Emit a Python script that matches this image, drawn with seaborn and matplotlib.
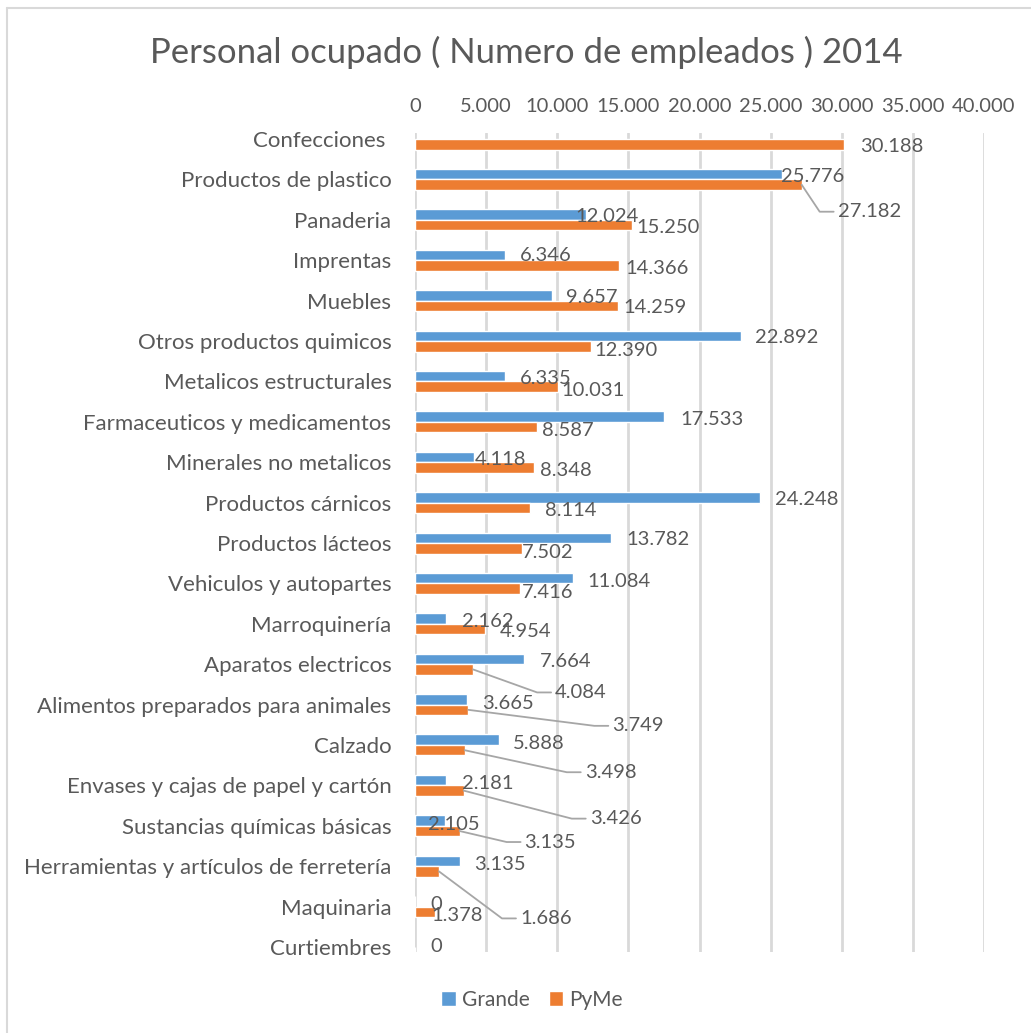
import matplotlib
matplotlib.use("Agg")
import matplotlib.pyplot as plt
from matplotlib.lines import Line2D
from matplotlib.patches import Patch
from matplotlib.transforms import IdentityTransform
import numpy as np
import pandas as pd
import seaborn as sns

# ---- data -------------------------------------------------------------
categorias = [
    "Confecciones ", "Productos de plastico", "Panaderia", "Imprentas", "Muebles",
    "Otros productos quimicos", "Metalicos estructurales",
    "Farmaceuticos y medicamentos", "Minerales no metalicos", "Productos cárnicos",
    "Productos lácteos", "Vehiculos y autopartes", "Marroquinería",
    "Aparatos electricos", "Alimentos preparados para animales", "Calzado",
    "Envases y cajas de papel y cartón", "Sustancias químicas básicas",
    "Herramientas y artículos de ferretería", "Maquinaria", "Curtiembres",
]
grande = [np.nan, 25776, 12024, 6346, 9657, 22892, 6335, 17533, 4118, 24248,
          13782, 11084, 2162, 7664, 3665, 5888, 2181, 2105, 3135, 0, np.nan]
pyme = [30188, 27182, 15250, 14366, 14259, 12390, 10031, 8587, 8348, 8114,
        7502, 7416, 4954, 4084, 3749, 3498, 3426, 3135, 1686, 1378, 0]
series = ["Grande", "PyMe"]
ticks_x = [0, 5000, 10000, 15000, 20000, 25000, 30000, 35000, 40000]
titulo = "Personal ocupado ( Numero de empleados ) 2014"

# label placement (pixel offsets from the bar end: right, down); leader lines
# are drawn for labels that were pulled away from their bar
off_grande = [None, (-1, 2), (-11, 2), (15, 1), (14, 2), (14, 2), (15, 2), (16, 3),
              (1, 3), (15, 2), (15, 2), (15, 3), (16, 3), (16, 3), (15, 4), (14, 4),
              (16, 3), (-17, 4), (15, 4), (15, 3), None]
off_pyme = [(16, 2), (36, 27), (4, 2), (6, 3), (6, 2), (3, 4), (4, 4), (5, 3),
            (6, 3), (15, 3), (0, 4), (1, 4), (14, 2), (82, 23), (144, 16),
            (120, 22), (126, 28), (65, 11), (81, 47), (-3, 4), (15, -6)]
leader_pyme = {1, 13, 14, 15, 16, 17, 18}

# ---- style ------------------------------------------------------------
AZUL = "#5B9BD5"
NARANJA = "#ED7D31"
TEXTO = "#595959"
GRIS = "#D9D9D9"
FS_NUM = 14.5

sns.set_theme(style="white")
plt.rcParams["font.family"] = ["Lato", "DejaVu Sans"]

df = pd.DataFrame({
    "Sector": categorias * 2,
    "Serie": ["Grande"] * len(categorias) + ["PyMe"] * len(categorias),
    "Empleados": grande + pyme,
})

W, H = 1031, 1033
fig = plt.figure(figsize=(W / 100, H / 100), dpi=100)
ax = fig.add_axes([415 / W, 1 - 952 / H, (984 - 415) / W, (952 - 133) / H])

sns.barplot(data=df, y="Sector", x="Empleados", hue="Serie", order=categorias,
            hue_order=series, palette=[AZUL, NARANJA], orient="h", width=0.52,
            gap=0, errorbar=None, ax=ax, legend=False, saturation=1)

ax.set_xlim(0, 40000)
ax.set_ylim(20.125, -0.15)
ax.set_xticks(ticks_x)
ax.set_xticklabels([f"{t:,}".replace(",", ".") for t in ticks_x])
ax.xaxis.tick_top()
ax.set_xlabel("")
ax.set_ylabel("")
ax.tick_params(axis="x", which="both", length=0, pad=13, labelsize=FS_NUM,
               labelcolor=TEXTO)
ax.tick_params(axis="y", which="both", length=0, pad=17, labelsize=16,
               labelcolor=TEXTO)
for s in ax.spines.values():
    s.set_visible(False)
ax.grid(axis="x", color=GRIS, linewidth=2)
ax.grid(axis="y", visible=False)
ax.set_axisbelow(True)

fig.canvas.draw()

# ---- data labels --------------------------------------------------------
half = 0.52 / 4  # centre of each dodged bar relative to the category


def fmt(v):
    return f"{int(v):,}".replace(",", ".")


def etiqueta(valor, ypos, off, leader):
    if off is None or valor is None or np.isnan(valor):
        return
    dx, dy = off
    bx, by = ax.transData.transform((valor, ypos))
    tx, ty = bx + dx, by - dy
    fig.text(tx / W, ty / H, fmt(valor), ha="left", va="center",
             fontsize=FS_NUM, color=TEXTO, transform=fig.transFigure, zorder=5)
    if leader:
        line = Line2D([bx, tx - 18, tx - 4], [by, ty, ty],
                      transform=IdentityTransform(), color="#A6A6A6",
                      linewidth=1.3, zorder=4)
        fig.add_artist(line)


for i in range(len(categorias)):
    etiqueta(grande[i], i - half, off_grande[i], False)
    etiqueta(pyme[i], i + half, off_pyme[i], i in leader_pyme)

# ---- title, legend, frame ----------------------------------------------
fig.text(526 / W, 1 - 52 / H, titulo, ha="center", va="center", fontsize=25,
         color=TEXTO)

handles = [Patch(facecolor=AZUL, label="Grande"),
           Patch(facecolor=NARANJA, label="PyMe")]
fig.legend(handles=handles, loc="center", bbox_to_anchor=(532 / W, 1 - 1000 / H),
           ncol=2, frameon=False, fontsize=15, labelcolor=TEXTO,
           handlelength=0.7, handleheight=0.7, handletextpad=0.3,
           columnspacing=0.9)

fig.add_artist(Line2D([6.5, 6.5], [0, H - 8], transform=IdentityTransform(),
                      color=GRIS, linewidth=1.5))
fig.add_artist(Line2D([6.5, W], [H - 8, H - 8], transform=IdentityTransform(),
                      color=GRIS, linewidth=1.5))

fig.savefig("out.png", dpi=100)
